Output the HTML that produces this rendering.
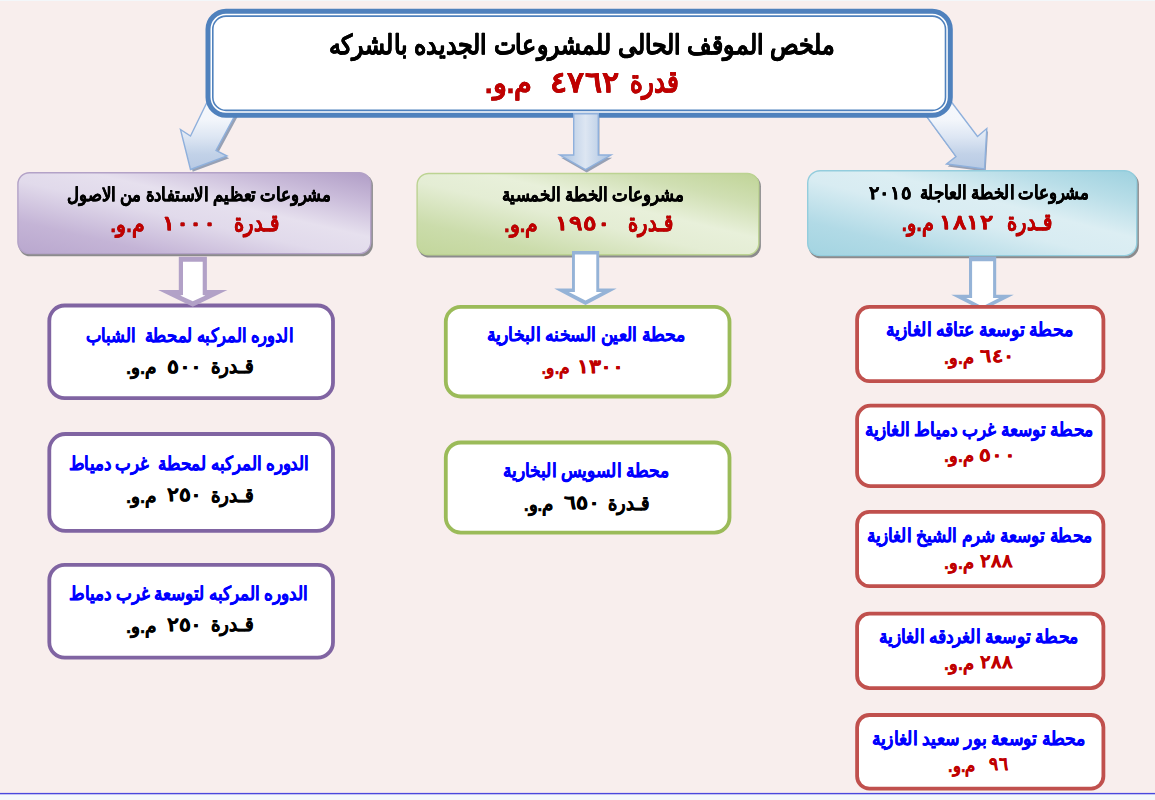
<!DOCTYPE html>
<html lang="ar"><head><meta charset="utf-8"><title>ملخص الموقف الحالى للمشروعات الجديده بالشركه</title>
<style>
html,body{margin:0;padding:0;background:#f8eeed;}
body{width:1155px;height:800px;overflow:hidden;position:relative;}
svg{position:absolute;left:0;top:0;display:block;}
text{font-family:"Liberation Sans",sans-serif;font-weight:bold;direction:rtl;unicode-bidi:plaintext;white-space:pre;text-anchor:start;stroke-width:.35px;stroke-linejoin:round;}
.sh{filter:drop-shadow(.9px .9px .5px rgba(0,0,0,.38));}
</style></head><body>
<svg width="1155" height="800" viewBox="0 0 1155 800">
<defs>
<linearGradient id="gP" x1="0" y1="1" x2="1" y2="0"><stop offset="0" stop-color="#b9a7ce"/><stop offset=".2" stop-color="#c4b4d6"/><stop offset=".45" stop-color="#e1daeb"/><stop offset=".6" stop-color="#e6e0ee"/><stop offset=".8" stop-color="#cabcda"/><stop offset="1" stop-color="#b09dc6"/></linearGradient>
<linearGradient id="gG" x1="0" y1="1" x2="1" y2="0"><stop offset="0" stop-color="#c2d69b"/><stop offset=".2" stop-color="#cbdcab"/><stop offset=".45" stop-color="#e4edd4"/><stop offset=".6" stop-color="#e8f0da"/><stop offset=".8" stop-color="#d0dfb3"/><stop offset="1" stop-color="#c0d497"/></linearGradient>
<linearGradient id="gA" x1="0" y1="1" x2="1" y2="0"><stop offset="0" stop-color="#a3d4e1"/><stop offset=".2" stop-color="#b1dae6"/><stop offset=".45" stop-color="#d8ecf2"/><stop offset=".6" stop-color="#dceef3"/><stop offset=".8" stop-color="#b9dee8"/><stop offset="1" stop-color="#9dd1df"/></linearGradient>
<linearGradient id="gArrD" x1="0" y1="0" x2="0" y2="1"><stop offset="0" stop-color="#f8fafd"/><stop offset=".35" stop-color="#f3f6fb"/><stop offset=".58" stop-color="#dde6f3"/><stop offset=".8" stop-color="#c2d2e8"/><stop offset="1" stop-color="#b8cae4"/></linearGradient>
<linearGradient id="gArrC" x1="0" y1="0" x2="1" y2="0"><stop offset="0" stop-color="#a9c1e0"/><stop offset=".5" stop-color="#dde6f2"/><stop offset="1" stop-color="#a9c1e0"/></linearGradient>
<filter id="fs" x="-10%" y="-10%" width="130%" height="130%"><feGaussianBlur stdDeviation="0.7"/></filter>
</defs>

<rect x="0" y="0" width="1155" height="800" fill="#f8eeed"/>
<rect x="0" y="0" width="1155" height="1" fill="#f3f7fa"/>
<rect x="0" y="794" width="1155" height="6" fill="#f4f8fb"/>
<rect x="0" y="792.9" width="1155" height="1.4" fill="#4a48dd"/>
<polygon points="214.2,94.2 192.7,138.2 182.7,131.7 192.7,171.7 229.2,158.2 218.2,152.7 242.2,108.2" fill="#7f8ea8" opacity=".8" filter="url(#fs)"/>
<polygon points="212.0,92.0 190.5,136.0 180.5,129.5 190.5,169.5 227.0,156.0 216.0,150.5 240.0,106.0" fill="url(#gArrD)" stroke="#8fb0dc" stroke-width="1.4" stroke-linejoin="miter"/>
<polygon points="946.2,96.1 978.7,139.1 988.0,131.1 985.7,171.6 947.7,166.6 957.2,159.1 921.2,110.1" fill="#7f8ea8" opacity=".8" filter="url(#fs)"/>
<polygon points="945.0,93.5 977.5,136.5 986.8,128.5 984.5,169.0 946.5,164.0 956.0,156.5 920.0,107.5" fill="url(#gArrD)" stroke="#8fb0dc" stroke-width="1.4"/>
<rect x="208.00" y="11.30" width="742.30" height="103.90" rx="18" ry="18" fill="#ffffff" stroke="#4f81bd" stroke-width="5"/>
<rect x="212.80" y="16.10" width="732.70" height="94.30" rx="13.2" ry="13.2" fill="none" stroke="#4f81bd" stroke-width="1.6"/>
<polygon points="574.9,116.5 599.5,116.5 599.5,157.8 612.2,157.8 586.7,172.4 561.0,157.8 574.9,157.8" fill="#7f8ea8" opacity=".8" filter="url(#fs)"/>
<polygon points="573.7,113.7 598.3,113.7 598.3,155.0 611.0,155.0 585.5,169.6 559.8,155.0 573.7,155.0" fill="url(#gArrC)" stroke="#8fb0dc" stroke-width="1.4"/>
<rect x="18.60" y="174.00" width="354.30" height="82.30" rx="11.5" ry="11.5" fill="#444b50" opacity=".6" filter="url(#fs)"/>
<rect x="17.90" y="172.70" width="352.90" height="80.90" rx="11.5" ry="11.5" fill="url(#gP)" stroke="#b3a2c7" stroke-width="1.4"/>
<rect x="417.80" y="174.80" width="343.10" height="82.70" rx="11.5" ry="11.5" fill="#444b50" opacity=".6" filter="url(#fs)"/>
<rect x="417.10" y="173.50" width="341.70" height="81.30" rx="11.5" ry="11.5" fill="url(#gG)" stroke="#bcd392" stroke-width="1.4"/>
<rect x="808.40" y="172.00" width="330.50" height="86.30" rx="12.5" ry="12.5" fill="#444b50" opacity=".6" filter="url(#fs)"/>
<rect x="807.70" y="170.70" width="329.10" height="84.90" rx="12.5" ry="12.5" fill="url(#gA)" stroke="#93cddd" stroke-width="1.4"/>
<polygon points="969.0,256.5 996.2,256.5 996.2,294.7 1013.8,294.7 982.4,310.5 951.2,294.7 969.0,294.7" fill="#95b3d7"/>
<polygon points="972.1,261.2 993.1,261.2 993.1,298.1 999.1,298.1 982.4,306.6 966.1,298.1 972.1,298.1" fill="#ffffff"/>
<rect x="49.30" y="305.50" width="283.70" height="92.60" rx="15.43" ry="15.43" fill="#ffffff" stroke="#8064a2" stroke-width="3.8"/>
<rect x="49.30" y="434.00" width="283.70" height="96.90" rx="16.15" ry="16.15" fill="#ffffff" stroke="#8064a2" stroke-width="3.8"/>
<rect x="49.30" y="564.80" width="283.70" height="92.80" rx="15.47" ry="15.47" fill="#ffffff" stroke="#8064a2" stroke-width="3.8"/>
<rect x="445.80" y="306.90" width="283.70" height="89.60" rx="14.93" ry="14.93" fill="#ffffff" stroke="#9bbb59" stroke-width="3.8"/>
<rect x="445.80" y="442.50" width="283.70" height="90.10" rx="15.02" ry="15.02" fill="#ffffff" stroke="#9bbb59" stroke-width="3.8"/>
<rect x="857.10" y="306.90" width="246.30" height="74.20" rx="12.37" ry="12.37" fill="#ffffff" stroke="#c0504d" stroke-width="3.8"/>
<rect x="857.10" y="405.65" width="246.30" height="80.45" rx="13.41" ry="13.41" fill="#ffffff" stroke="#c0504d" stroke-width="3.8"/>
<rect x="857.10" y="511.90" width="246.30" height="74.20" rx="12.37" ry="12.37" fill="#ffffff" stroke="#c0504d" stroke-width="3.8"/>
<rect x="857.10" y="613.65" width="246.30" height="74.45" rx="12.41" ry="12.41" fill="#ffffff" stroke="#c0504d" stroke-width="3.8"/>
<rect x="857.10" y="715.00" width="246.30" height="73.60" rx="12.27" ry="12.27" fill="#ffffff" stroke="#c0504d" stroke-width="3.8"/>
<polygon points="178.8,256.7 206.9,256.7 206.9,290.0 227.4,290.0 192.8,306.7 158.1,290.0 178.8,290.0" fill="#b2a1c7"/>
<polygon points="183.0,261.7 202.7,261.7 202.7,295.0 205.4,295.4 192.8,301.3 180.2,295.4 183.0,295.0" fill="#ffffff"/>
<polygon points="572.0,251.1 599.2,251.1 599.2,288.5 616.7,288.5 585.5,304.9 554.2,288.5 572.0,288.5" fill="#95b3d7"/>
<polygon points="574.9,254.5 596.3,254.5 596.3,292.0 602.1,292.0 585.5,300.6 568.8,292.0 574.9,292.0" fill="#ffffff"/>
<g class="sh">
<text x="834.4" y="54.0" font-size="27" fill="#000000" stroke="#000000" textLength="505.8" lengthAdjust="spacingAndGlyphs">ملخص الموقف الحالى للمشروعات الجديده بالشركه</text>
<text x="678.9" y="92.3" font-size="31" fill="#c00000" stroke="#c00000" textLength="49.3" lengthAdjust="spacingAndGlyphs">قدرة</text>
<text x="619.8" y="92.2" font-size="29" fill="#c00000" stroke="#c00000" textLength="70.1" lengthAdjust="spacingAndGlyphs">٤٧٦٢</text>
<text x="532.3" y="93.3" font-size="29" fill="#c00000" stroke="#c00000" textLength="47.6" lengthAdjust="spacingAndGlyphs">م.و.</text>
</g>
<g class="sh">
<text x="331.0" y="201.3" font-size="19" fill="#000000" stroke="#000000" textLength="264.3" lengthAdjust="spacingAndGlyphs">مشروعات تعظيم الاستفادة من الاصول</text>
<text x="279.0" y="231.3" font-size="24" fill="#c00000" stroke="#c00000" textLength="45.4" lengthAdjust="spacingAndGlyphs">قـدرة</text>
<text x="216.0" y="230.0" font-size="20" fill="#c00000" stroke="#c00000" textLength="53.7" lengthAdjust="spacingAndGlyphs">١٠٠٠</text>
<text x="144.8" y="232.2" font-size="21.5" fill="#c00000" stroke="#c00000" textLength="34.2" lengthAdjust="spacingAndGlyphs">م.و.</text>
<text x="683.4" y="201.3" font-size="19" fill="#000000" stroke="#000000" textLength="181.8" lengthAdjust="spacingAndGlyphs">مشروعات الخطة الخمسية</text>
<text x="672.9" y="231.3" font-size="24" fill="#c00000" stroke="#c00000" textLength="45.3" lengthAdjust="spacingAndGlyphs">قـدرة</text>
<text x="610.5" y="230.0" font-size="20" fill="#c00000" stroke="#c00000" textLength="55.1" lengthAdjust="spacingAndGlyphs">١٩٥٠</text>
<text x="538.4" y="232.2" font-size="21.5" fill="#c00000" stroke="#c00000" textLength="34.3" lengthAdjust="spacingAndGlyphs">م.و.</text>
<text x="1089.0" y="199.0" font-size="19" fill="#000000" stroke="#000000" textLength="169.4" lengthAdjust="spacingAndGlyphs">مشروعات الخطة العاجلة</text>
<text x="911.9" y="199.0" font-size="18" fill="#000000" stroke="#000000" textLength="43.4" lengthAdjust="spacingAndGlyphs">٢٠١٥</text>
<text x="1052.0" y="230.2" font-size="24" fill="#c00000" stroke="#c00000" textLength="45.4" lengthAdjust="spacingAndGlyphs">قـدرة</text>
<text x="993.4" y="228.9" font-size="20" fill="#c00000" stroke="#c00000" textLength="54.5" lengthAdjust="spacingAndGlyphs">١٨١٢</text>
<text x="933.9" y="231.1" font-size="21.5" fill="#c00000" stroke="#c00000" textLength="32.2" lengthAdjust="spacingAndGlyphs">م.و.</text>
</g>
<g>
<text x="292.9" y="341.5" font-size="19" fill="#0000ff" stroke="#0000ff" textLength="207.3" lengthAdjust="spacingAndGlyphs">الدوره المركبه لمحطة  الشباب</text>
<text x="253.8" y="372.9" font-size="20" fill="#000000" stroke="#000000" textLength="42.8" lengthAdjust="spacingAndGlyphs">قـدرة</text>
<text x="202.1" y="372.5" font-size="19" fill="#000000" stroke="#000000" textLength="35.0" lengthAdjust="spacingAndGlyphs">٥٠٠</text>
<text x="156.8" y="374.3" font-size="19" fill="#000000" stroke="#000000" textLength="30.7" lengthAdjust="spacingAndGlyphs">م.و.</text>
<text x="308.9" y="469.5" font-size="19" fill="#0000ff" stroke="#0000ff" textLength="240.3" lengthAdjust="spacingAndGlyphs">الدوره المركبه لمحطة  غرب دمياط</text>
<text x="253.8" y="501.8" font-size="20" fill="#000000" stroke="#000000" textLength="42.8" lengthAdjust="spacingAndGlyphs">قـدرة</text>
<text x="202.1" y="501.4" font-size="19" fill="#000000" stroke="#000000" textLength="35.0" lengthAdjust="spacingAndGlyphs">٢٥٠</text>
<text x="156.8" y="503.2" font-size="19" fill="#000000" stroke="#000000" textLength="30.7" lengthAdjust="spacingAndGlyphs">م.و.</text>
<text x="307.9" y="599.5" font-size="19" fill="#0000ff" stroke="#0000ff" textLength="239.3" lengthAdjust="spacingAndGlyphs">الدوره المركبه لتوسعة غرب دمياط</text>
<text x="253.8" y="631.2" font-size="20" fill="#000000" stroke="#000000" textLength="42.8" lengthAdjust="spacingAndGlyphs">قـدرة</text>
<text x="202.1" y="630.8" font-size="19" fill="#000000" stroke="#000000" textLength="35.0" lengthAdjust="spacingAndGlyphs">٢٥٠</text>
<text x="156.8" y="632.6" font-size="19" fill="#000000" stroke="#000000" textLength="30.7" lengthAdjust="spacingAndGlyphs">م.و.</text>
<text x="685.4" y="340.6" font-size="19" fill="#0000ff" stroke="#0000ff" textLength="198.7" lengthAdjust="spacingAndGlyphs">محطة العين السخنه البخارية</text>
<text x="624.1" y="373.2" font-size="19" fill="#c00000" stroke="#c00000" textLength="47.3" lengthAdjust="spacingAndGlyphs">١٣٠٠</text>
<text x="569.9" y="374.3" font-size="17.5" fill="#c00000" stroke="#c00000" textLength="28.3" lengthAdjust="spacingAndGlyphs">م.و.</text>
<text x="668.9" y="476.9" font-size="19" fill="#0000ff" stroke="#0000ff" textLength="165.8" lengthAdjust="spacingAndGlyphs">محطة السويس البخارية</text>
<text x="649.8" y="509.5" font-size="20" fill="#000000" stroke="#000000" textLength="41.7" lengthAdjust="spacingAndGlyphs">قـدرة</text>
<text x="599.6" y="509.1" font-size="19" fill="#000000" stroke="#000000" textLength="35.6" lengthAdjust="spacingAndGlyphs">٦٥٠</text>
<text x="553.9" y="510.9" font-size="19" fill="#000000" stroke="#000000" textLength="30.2" lengthAdjust="spacingAndGlyphs">م.و.</text>
<text x="1072.9" y="336.3" font-size="19" fill="#0000ff" stroke="#0000ff" textLength="187.3" lengthAdjust="spacingAndGlyphs">محطة توسعة عتاقه الغازية</text>
<text x="1015.0" y="361.7" font-size="18" fill="#c00000" stroke="#c00000" textLength="35.0" lengthAdjust="spacingAndGlyphs">٦٤٠</text>
<text x="973.9" y="363.5" font-size="18" fill="#c00000" stroke="#c00000" textLength="29.8" lengthAdjust="spacingAndGlyphs">م.و.</text>
<text x="1093.4" y="436.3" font-size="19" fill="#0000ff" stroke="#0000ff" textLength="228.8" lengthAdjust="spacingAndGlyphs">محطة توسعة غرب دمياط الغازية</text>
<text x="1015.9" y="460.5" font-size="18" fill="#c00000" stroke="#c00000" textLength="36.8" lengthAdjust="spacingAndGlyphs">٥٠٠</text>
<text x="973.9" y="462.3" font-size="18" fill="#c00000" stroke="#c00000" textLength="29.8" lengthAdjust="spacingAndGlyphs">م.و.</text>
<text x="1092.4" y="542.0" font-size="19" fill="#0000ff" stroke="#0000ff" textLength="225.8" lengthAdjust="spacingAndGlyphs">محطة توسعة شرم الشيخ الغازية</text>
<text x="1012.9" y="566.7" font-size="18" fill="#c00000" stroke="#c00000" textLength="32.9" lengthAdjust="spacingAndGlyphs">٢٨٨</text>
<text x="973.9" y="568.5" font-size="18" fill="#c00000" stroke="#c00000" textLength="29.8" lengthAdjust="spacingAndGlyphs">م.و.</text>
<text x="1078.4" y="643.0" font-size="19" fill="#0000ff" stroke="#0000ff" textLength="199.3" lengthAdjust="spacingAndGlyphs">محطة توسعة الغردقه الغازية</text>
<text x="1012.9" y="668.0" font-size="18" fill="#c00000" stroke="#c00000" textLength="32.9" lengthAdjust="spacingAndGlyphs">٢٨٨</text>
<text x="973.9" y="669.8" font-size="18" fill="#c00000" stroke="#c00000" textLength="29.8" lengthAdjust="spacingAndGlyphs">م.و.</text>
<text x="1085.5" y="745.2" font-size="19" fill="#0000ff" stroke="#0000ff" textLength="213.8" lengthAdjust="spacingAndGlyphs">محطة توسعة بور سعيد الغازية</text>
<text x="1008.0" y="770.2" font-size="18" fill="#c00000" stroke="#c00000" textLength="19.0" lengthAdjust="spacingAndGlyphs">٩٦</text>
<text x="975.5" y="772.0" font-size="18" fill="#c00000" stroke="#c00000" textLength="27.4" lengthAdjust="spacingAndGlyphs">م.و.</text>
</g>
</svg></body></html>
